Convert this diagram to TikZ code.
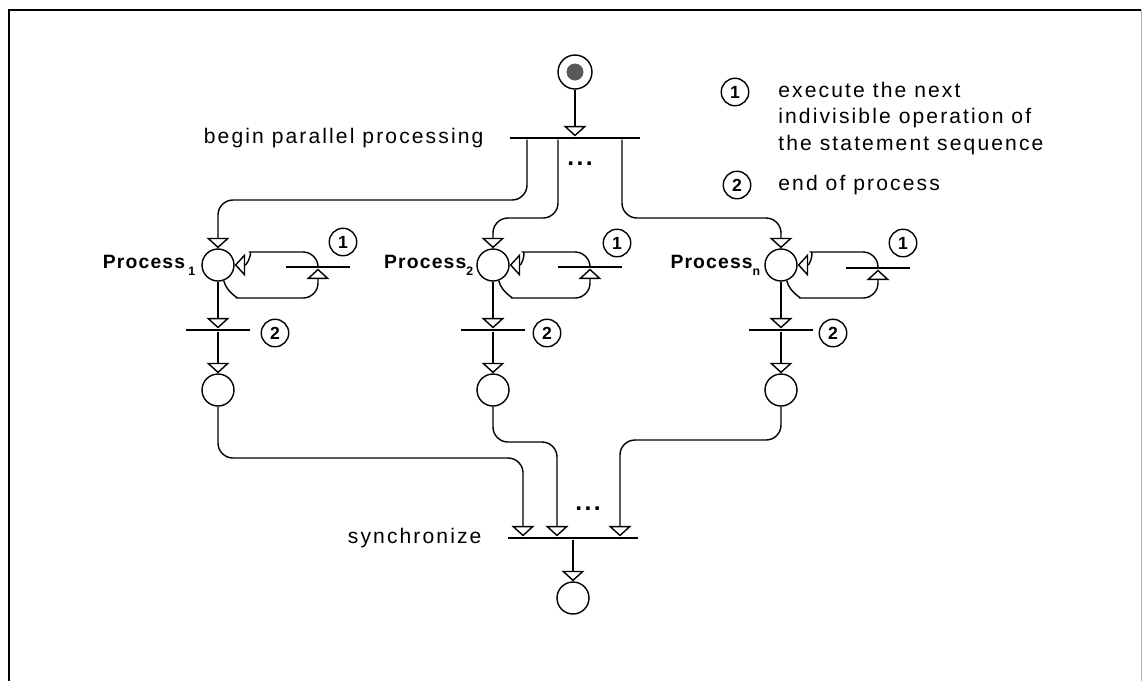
\documentclass[tikz,border=0pt]{standalone}
\usepackage{fontspec}
\setmainfont{Liberation Sans}
\newfontfamily\lblfont[LetterSpace=10]{Liberation Sans}
\newfontfamily\procfont[LetterSpace=6]{Liberation Sans}
\usetikzlibrary{arrows.meta, positioning, calc}

\begin{document}
\begin{tikzpicture}[
    x=0.02cm, y=-0.02cm,
    place/.style={circle, draw, thick, minimum size=0.64cm, inner sep=0pt},
    bar/.style={rectangle, fill=black, inner sep=0pt, minimum height=1.4pt},
    longbar/.style={bar, minimum width=2.6cm},
    shortbar/.style={bar, minimum width=1.3cm},
    numc/.style={circle, draw, thick, minimum size=0.55cm, inner sep=0pt, font=\procfont\bfseries\fontsize{10}{10}\selectfont},
    txt/.style={font=\lblfont\fontsize{12}{15}\selectfont},
    plabel/.style={font=\procfont\bfseries\fontsize{11}{13}\selectfont, inner sep=1pt},
    dots/.style={font=\lblfont\bfseries\fontsize{14}{14}\selectfont},
    flow/.style={draw, thick, -{Triangle[open, length=6pt, width=13pt]}}
]
\useasboundingbox (0,0) rectangle (1144,681);

% Frame
\draw[line width=1.4pt] (9,681) -- (9,10) -- (1141,10);
\draw[black!30] (1141,10) -- (1141,681);

% Start and fork
\node[place, minimum size=0.68cm] (start) at (575,72) {};
\node[circle, fill=black!65, minimum size=0.34cm, inner sep=0pt] (token) at (start) {};
\node[longbar] (tbegin) at (575,138) {};
\node[txt, left=0.4cm of tbegin] (lbegin) {begin parallel processing};
\node[dots] (dbegin) at (580,164) {...};
\coordinate (f1) at ([xshift=-0.96cm]tbegin.south);
\coordinate (f2) at ([xshift=-0.34cm]tbegin.south);
\coordinate (fn) at ([xshift=0.94cm]tbegin.south);

% Processes
\node[place] (p1) at (218,265) {};
\node[place] (p2) at (493,265) {};
\node[place] (pn) at (781,265) {};
\node[plabel, left=0.08cm of p1] (lp1) {Process\,\raisebox{-0.7ex}{\scriptsize 1}};
\node[plabel, left=0.02cm of p2] (lp2) {Process\raisebox{-0.7ex}{\scriptsize 2}};
\node[plabel, left=0.04cm of pn] (lpn) {Process\raisebox{-0.7ex}{\scriptsize n}};

% Step transitions
\node[shortbar] (l1) at (318,267) {};
\node[shortbar] (l2) at (590,267) {};
\node[shortbar] (ln) at (878,268) {};
\node[numc] (c1a) at (343,242) {1};
\node[numc] (c1b) at (617,243) {1};
\node[numc] (c1c) at (903,243) {1};

% End transitions
\node[shortbar] (e1) at (218,330) {};
\node[shortbar] (e2) at (493,330) {};
\node[shortbar] (en) at (781,330) {};
\node[numc] (c2a) at (275,333) {2};
\node[numc] (c2b) at (547,333) {2};
\node[numc] (c2c) at (833,333) {2};

% Finished processes
\node[place] (d1) at (218,390) {};
\node[place] (d2) at (493,390) {};
\node[place] (dn) at (781,390) {};

% Synchronisation
\node[longbar] (tsync) at (573,538) {};
\node[txt, left=0.4cm of tsync] (lsync) {synchronize};
\node[dots] (dsync) at (588,509) {...};
\node[place] (final) at (573,598) {};
\coordinate (s1) at ([xshift=-1cm]tsync.north);
\coordinate (s2) at ([xshift=-0.32cm]tsync.north);
\coordinate (sn) at ([xshift=0.94cm]tsync.north);

% Legend
\node[numc] (k1) at (735,92) {1};
\node[txt, align=left, anchor=north west, inner sep=0pt] (k1txt) at (778,82) {execute the next\\indivisible operation of\\the statement sequence};
\node[numc] (k2) at (737,185) {2};
\node[txt, anchor=west, inner sep=0pt] (k2txt) at (778,185) {end of process};

% Connections
\draw[flow] (start) -- (tbegin);
\draw[flow, rounded corners=0.3cm] (f1) |- (p1 |- 0,200) -- (p1);
\draw[flow, rounded corners=0.3cm] (f2) |- (p2 |- 0,218) -- (p2);
\draw[flow, rounded corners=0.3cm] (fn) |- (pn |- 0,218) -- (pn);

\draw[flow, rounded corners=0.3cm] (p1.-70) to[out=-75, in=180] (252,298) -| (l1.south);
\draw[flow, rounded corners=0.3cm] (l1.north) |- (265,252) to[out=180, in=0] (p1.east);
\draw[flow, rounded corners=0.3cm] (p2.-70) to[out=-75, in=180] (527,298) -| (l2.south);
\draw[flow, rounded corners=0.3cm] (l2.north) |- (538,252) to[out=180, in=0] (p2.east);
\draw[flow, rounded corners=0.3cm] (pn.-70) to[out=-75, in=180] (815,298) -| (ln.south);
\draw[flow, rounded corners=0.3cm] (ln.north) |- (826,252) to[out=180, in=0] (pn.east);

\draw[flow] (p1) -- (e1);
\draw[flow] (p2) -- (e2);
\draw[flow] (pn) -- (en);
\draw[flow] (e1) -- (d1);
\draw[flow] (e2) -- (d2);
\draw[flow] (en) -- (dn);

\draw[flow, rounded corners=0.3cm] (d1) |- (s1 |- 0,458) -- (s1);
\draw[flow, rounded corners=0.3cm] (d2) |- (s2 |- 0,442) -- (s2);
\draw[flow, rounded corners=0.3cm] (dn) |- (sn |- 0,440) -- (sn);
\draw[flow] (tsync) -- (final);

\end{tikzpicture}
\end{document}
